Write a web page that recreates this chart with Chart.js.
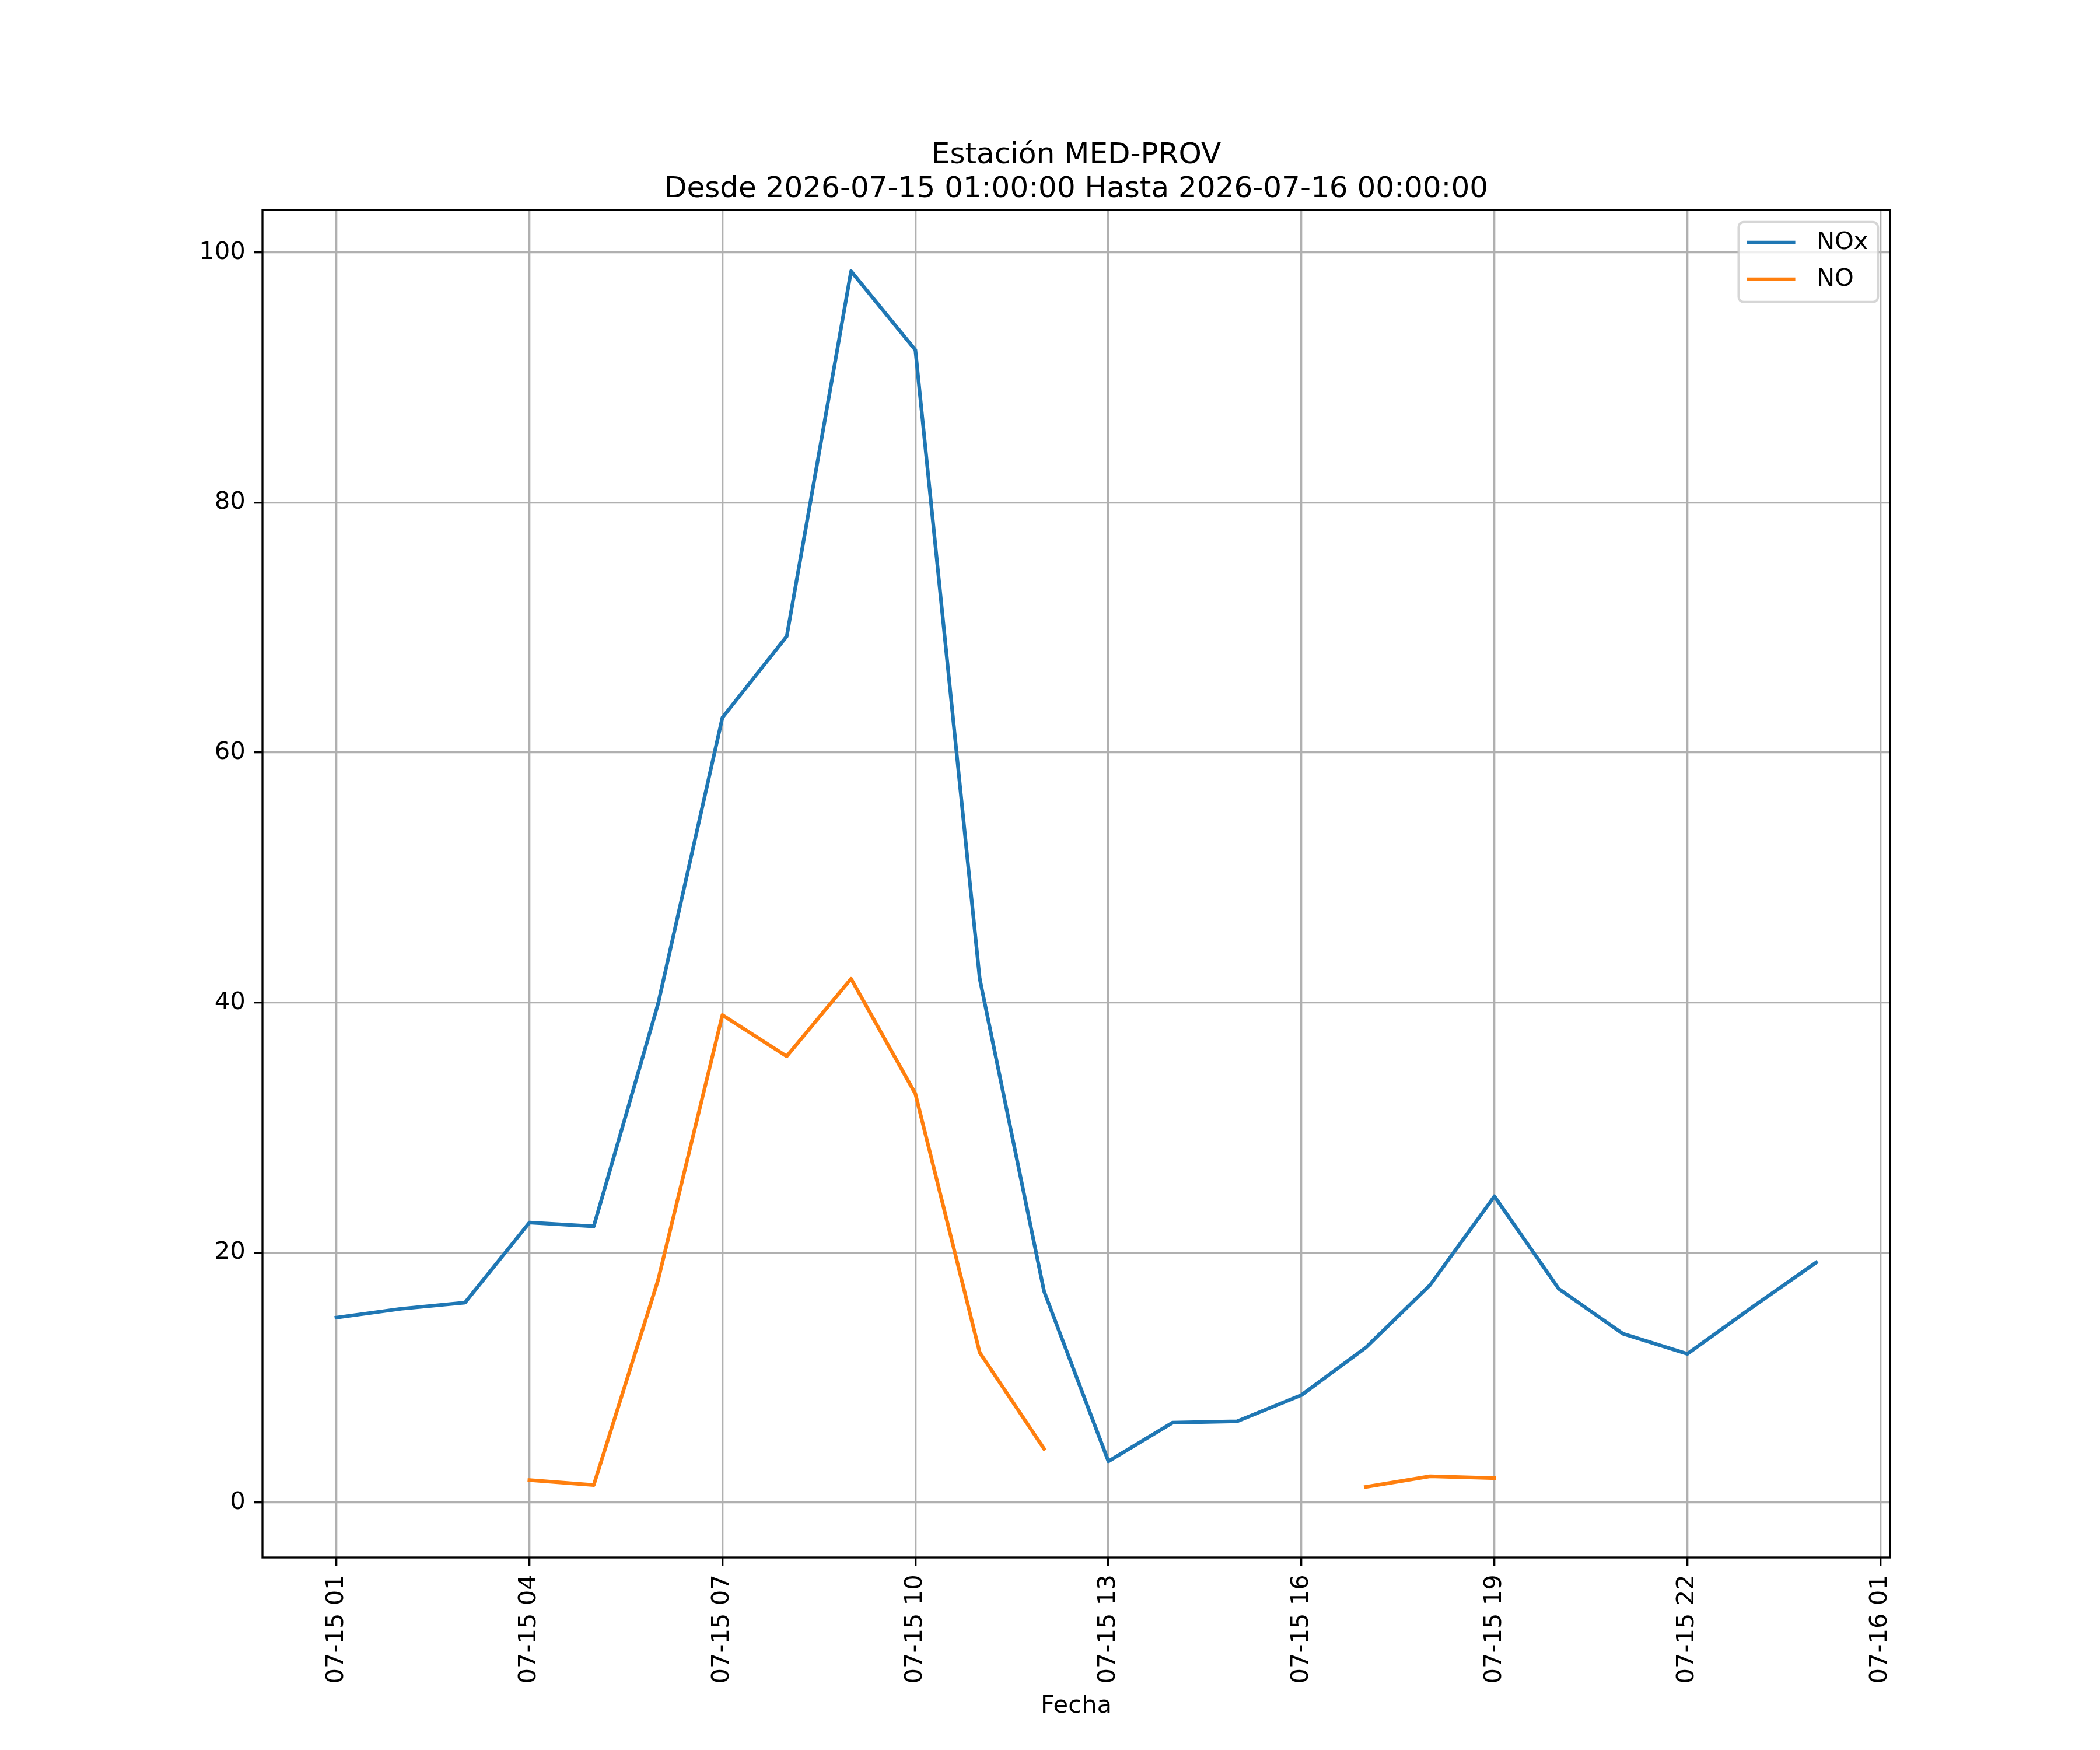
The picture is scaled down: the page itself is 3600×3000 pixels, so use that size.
<!DOCTYPE html>
<html>
<head>
<meta charset="utf-8">
<script src="https://cdn.jsdelivr.net/npm/chart.js@4.4.1/dist/chart.umd.min.js"></script>
<style>
  html, body { margin: 0; padding: 0; background: #fff; }
  canvas { display: block; }
</style>
</head>
<body>
<canvas id="grafico" width="3600" height="3000"></canvas>
<script>
// horas medidas (una por hora)
const horas = [
  '07-15 01', '07-15 02', '07-15 03', '07-15 04', '07-15 05', '07-15 06',
  '07-15 07', '07-15 08', '07-15 09', '07-15 10', '07-15 11', '07-15 12',
  '07-15 13', '07-15 14', '07-15 15', '07-15 16', '07-15 17', '07-15 18',
  '07-15 19', '07-15 20', '07-15 21', '07-15 22', '07-15 23', '07-16 00'
];
const valoresNOx = [14.8, 15.5, 16.0, 22.4, 22.1, 39.9, 62.8, 69.3, 98.5, 92.2, 41.9, 16.9,
                    3.3, 6.4, 6.5, 8.6, 12.4, 17.4, 24.5, 17.1, 13.5, 11.9, 15.6, 19.2];
const valoresNO = [null, null, null, 1.8, 1.4, 17.8, 39.0, 35.7, 41.9, 32.7, 12.0, 4.3,
                   null, null, null, null, 1.25, 2.1, 1.95, null, null, null, null, null];
// etiquetas del eje x cada 3 horas
const ticksX = [0, 3, 6, 9, 12, 15, 18, 21, 24];
const etiquetasX = ['07-15 01', '07-15 04', '07-15 07', '07-15 10', '07-15 13',
                    '07-15 16', '07-15 19', '07-15 22', '07-16 01'];
const ticksY = [0, 20, 40, 60, 80, 100];

const titulo = ['Estación MED-PROV', 'Desde 2026-07-15 01:00:00 Hasta 2026-07-16 00:00:00'];

const PT = 300 / 72;           // puntos -> px a 300 dpi
const FUENTE = 'DejaVu Sans';
const tamTexto = 10 * PT;

Chart.defaults.font.family = FUENTE;
Chart.defaults.color = '#000';

function puntos(valores) {
  return valores.map((v, i) => ({ x: i, y: v }));
}

// titulo, marco y leyenda dibujados a mano (estilo matplotlib)
const estiloMpl = {
  id: 'estiloMpl',
  afterDatasetsDraw(chart) {
    const { ctx, chartArea: a } = chart;
    ctx.save();
    ctx.strokeStyle = '#000';
    ctx.lineWidth = 0.8 * PT;
    ctx.strokeRect(a.left, a.top, a.right - a.left, a.bottom - a.top);
    ctx.restore();
  },
  afterDraw(chart) {
    const { ctx, chartArea: a } = chart;
    const cx = (a.left + a.right) / 2;
    ctx.save();
    ctx.fillStyle = '#000';
    ctx.font = (12 * PT) + 'px "' + FUENTE + '"';
    ctx.textAlign = 'center';
    ctx.textBaseline = 'alphabetic';
    ctx.fillText(titulo[0], cx, 280);
    ctx.fillText(titulo[1], cx, 338);

    // leyenda
    const sets = chart.data.datasets;
    ctx.font = tamTexto + 'px "' + FUENTE + '"';
    let anchoTexto = 0;
    sets.forEach(s => { anchoTexto = Math.max(anchoTexto, ctx.measureText(s.label).width); });
    const pad = 0.4 * tamTexto, largo = 2 * tamTexto, sep = 0.8 * tamTexto;
    const ancho = pad * 2 + largo + sep + anchoTexto;
    const alto = 137;
    const der = a.right - 0.5 * tamTexto;
    const izq = der - ancho;
    const arriba = a.top + 0.5 * tamTexto;
    const r = 0.2 * tamTexto;
    ctx.beginPath();
    ctx.roundRect(izq, arriba, ancho, alto, r);
    ctx.fillStyle = 'rgba(255,255,255,0.8)';
    ctx.fill();
    ctx.strokeStyle = 'rgba(204,204,204,0.8)';
    ctx.lineWidth = 1.0 * PT;
    ctx.stroke();
    sets.forEach((s, i) => {
      const yc = arriba + 35 + i * 63;
      ctx.beginPath();
      ctx.moveTo(izq + pad - 3, yc);
      ctx.lineTo(izq + pad - 3 + largo, yc);
      ctx.strokeStyle = s.borderColor;
      ctx.lineWidth = 1.5 * PT;
      ctx.lineCap = 'butt';
      ctx.stroke();
      ctx.fillStyle = '#000';
      ctx.textAlign = 'left';
      ctx.textBaseline = 'middle';
      ctx.fillText(s.label, izq + pad + largo + sep, yc);
    });
    ctx.restore();
  }
};

new Chart(document.getElementById('grafico'), {
  type: 'line',
  data: {
    datasets: [
      {
        label: 'NOx',
        data: puntos(valoresNOx),
        borderColor: '#1f77b4',
        borderWidth: 1.5 * PT,
        borderCapStyle: 'square',
        borderJoinStyle: 'round',
        pointRadius: 0,
        tension: 0,
        spanGaps: false,
        fill: false
      },
      {
        label: 'NO',
        data: puntos(valoresNO),
        borderColor: '#ff7f0e',
        borderWidth: 1.5 * PT,
        borderCapStyle: 'square',
        borderJoinStyle: 'round',
        pointRadius: 0,
        tension: 0,
        spanGaps: false,
        fill: false
      }
    ]
  },
  options: {
    responsive: false,
    devicePixelRatio: 1,
    animation: false,
    layout: { padding: { top: 360, right: 360, left: 0, bottom: 0 } },
    plugins: {
      legend: { display: false },
      tooltip: { enabled: false },
      title: { display: false }
    },
    scales: {
      x: {
        type: 'linear',
        min: -1.15,
        max: 24.15,
        afterBuildTicks: (eje) => { eje.ticks = ticksX.map(v => ({ value: v })); },
        afterFit: (eje) => { eje.height = 330; },
        ticks: {
          font: { size: tamTexto },
          color: '#000',
          minRotation: 90,
          maxRotation: 90,
          padding: 3.5 * PT,
          callback: (v) => etiquetasX[ticksX.indexOf(v)]
        },
        grid: {
          color: '#b0b0b0',
          lineWidth: 0.8 * PT,
          tickColor: '#000',
          tickWidth: 0.8 * PT,
          tickLength: 3.5 * PT
        },
        border: { display: false },
        title: {
          display: true,
          text: 'Fecha',
          font: { size: tamTexto },
          color: '#000',
          padding: { top: 0, bottom: 50 }
        }
      },
      y: {
        type: 'linear',
        min: -4.39,
        max: 103.4,
        afterBuildTicks: (eje) => { eje.ticks = ticksY.map(v => ({ value: v })); },
        afterFit: (eje) => { eje.width = 450; },
        ticks: {
          font: { size: tamTexto },
          color: '#000',
          padding: 3.5 * PT,
          callback: (v) => String(v)
        },
        grid: {
          color: '#b0b0b0',
          lineWidth: 0.8 * PT,
          tickColor: '#000',
          tickWidth: 0.8 * PT,
          tickLength: 3.5 * PT
        },
        border: { display: false }
      }
    }
  },
  plugins: [estiloMpl]
});
</script>
</body>
</html>
